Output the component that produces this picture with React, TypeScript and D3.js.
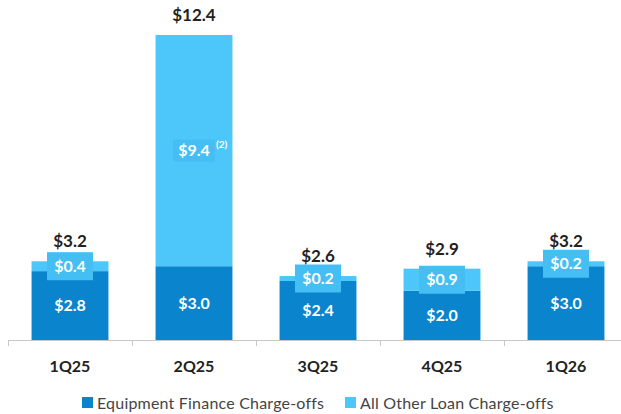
import * as d3 from "d3";
import { useEffect, useRef } from "react";

const QUARTERS = ["1Q25", "2Q25", "3Q25", "4Q25", "1Q26"];
const EQUIPMENT = [2.8, 3.0, 2.4, 2.0, 3.0];
const OTHER_LOANS = [0.4, 9.4, 0.2, 0.9, 0.2];
const TOTALS = [3.2, 12.4, 2.6, 2.9, 3.2];
const FOOTNOTES = ["", "(2)", "", "", ""];
const LEGEND = ["Equipment Finance Charge-offs", "All Other Loan Charge-offs"];

const W = 621;
const H = 414;
const DARK = "#0a84cc";
const LIGHT = "#4dc7fa";
const LIGHT_BOX = "#44bef3";
const FONT = "Lato, 'Open Sans', sans-serif";

export default function App() {
  const svgRef = useRef<SVGSVGElement>(null);

  useEffect(() => {
    const svg = d3.select(svgRef.current);
    svg.selectAll("*").remove();

    const x = d3.scaleBand().domain(QUARTERS).range([8, 628]).paddingInner(0.38).paddingOuter(0.19);
    const y = d3.scaleLinear().domain([0, 12.4]).range([340, 35]);

    const rows = QUARTERS.map((q, i) => ({
      q,
      eq: EQUIPMENT[i],
      other: OTHER_LOANS[i],
      total: TOTALS[i],
      note: FOOTNOTES[i],
    }));

    const g = svg.append("g");

    // stacked bars
    g.selectAll("rect.eq")
      .data(rows)
      .join("rect")
      .attr("class", "eq")
      .attr("x", (d) => x(d.q)!)
      .attr("width", x.bandwidth())
      .attr("y", (d) => y(d.eq))
      .attr("height", (d) => y(0) - y(d.eq))
      .attr("fill", DARK);

    g.selectAll("rect.other")
      .data(rows)
      .join("rect")
      .attr("class", "other")
      .attr("x", (d) => x(d.q)!)
      .attr("width", x.bandwidth())
      .attr("y", (d) => y(d.eq + d.other))
      .attr("height", (d) => y(d.eq) - y(d.eq + d.other))
      .attr("fill", LIGHT);

    // axis with boundary ticks
    const bounds = d3.range(QUARTERS.length + 1).map((i) => 8 + i * x.step());
    g.append("line")
      .attr("x1", 8)
      .attr("x2", 628)
      .attr("y1", 340.5)
      .attr("y2", 340.5)
      .attr("stroke", "#c9c9c9");
    g.selectAll("line.tick")
      .data(bounds)
      .join("line")
      .attr("class", "tick")
      .attr("x1", (d) => d + 0.5)
      .attr("x2", (d) => d + 0.5)
      .attr("y1", 340)
      .attr("y2", 346)
      .attr("stroke", "#c9c9c9");

    g.selectAll("text.cat")
      .data(rows)
      .join("text")
      .attr("class", "cat")
      .attr("x", (d) => x(d.q)! + x.bandwidth() / 2)
      .attr("y", 372)
      .attr("text-anchor", "middle")
      .attr("font-family", FONT)
      .attr("font-weight", 700)
      .attr("font-size", 16)
      .attr("fill", "#222")
      .text((d) => d.q);

    // totals
    g.selectAll("text.total")
      .data(rows)
      .join("text")
      .attr("class", "total")
      .attr("x", (d) => x(d.q)! + x.bandwidth() / 2)
      .attr("y", (d) => y(d.total) - 14)
      .attr("text-anchor", "middle")
      .attr("font-family", FONT)
      .attr("font-weight", 700)
      .attr("font-size", 17)
      .attr("fill", "#222")
      .text((d) => `$${d.total.toFixed(1)}`);

    // label boxes for the light segment
    const boxes = g
      .selectAll("g.box")
      .data(rows)
      .join("g")
      .attr("class", "box")
      .attr(
        "transform",
        (d) => `translate(${x(d.q)! + x.bandwidth() / 2},${(y(d.eq) + y(d.eq + d.other)) / 2})`,
      );
    boxes
      .append("rect")
      .attr("x", (d) => (d.note ? -21 : -23))
      .attr("y", (d) => (d.note ? -11 : -14))
      .attr("width", (d) => (d.note ? 42 : 46))
      .attr("height", (d) => (d.note ? 22 : 28))
      .attr("fill", LIGHT_BOX);
    boxes
      .append("text")
      .attr("text-anchor", "middle")
      .attr("dy", "0.35em")
      .attr("font-family", FONT)
      .attr("font-weight", 700)
      .attr("font-size", 16)
      .attr("fill", "#fff")
      .text((d) => `$${d.other.toFixed(1)}`);
    boxes
      .filter((d) => !!d.note)
      .append("text")
      .attr("x", 22)
      .attr("y", -3)
      .attr("font-family", FONT)
      .attr("font-weight", 700)
      .attr("font-size", 10)
      .attr("fill", "#fff")
      .text((d) => d.note);

    // equipment labels
    g.selectAll("text.eqlab")
      .data(rows)
      .join("text")
      .attr("class", "eqlab")
      .attr("x", (d) => x(d.q)! + x.bandwidth() / 2)
      .attr("y", (d) => (y(0) + y(d.eq)) / 2)
      .attr("dy", "0.35em")
      .attr("text-anchor", "middle")
      .attr("font-family", FONT)
      .attr("font-weight", 700)
      .attr("font-size", 16)
      .attr("fill", "#fff")
      .text((d) => `$${d.eq.toFixed(1)}`);

    // legend
    const legendX = [82, 345];
    const leg = g
      .selectAll("g.leg")
      .data(LEGEND)
      .join("g")
      .attr("class", "leg")
      .attr("transform", (_, i) => `translate(${legendX[i]},397)`);
    leg
      .append("rect")
      .attr("width", 11)
      .attr("height", 11)
      .attr("fill", (_, i) => (i === 0 ? DARK : LIGHT));
    leg
      .append("text")
      .attr("x", 15)
      .attr("y", 6)
      .attr("dy", "0.35em")
      .attr("font-family", FONT)
      .attr("font-size", 16)
      .attr("letter-spacing", 0.2)
      .attr("fill", "#444")
      .text((d) => d);
  }, []);

  return (
    <div style={{ position: "absolute", left: 0, top: 0 }}>
      <svg ref={svgRef} width={W} height={H} style={{ display: "block", background: "#fff" }} />
    </div>
  );
}
